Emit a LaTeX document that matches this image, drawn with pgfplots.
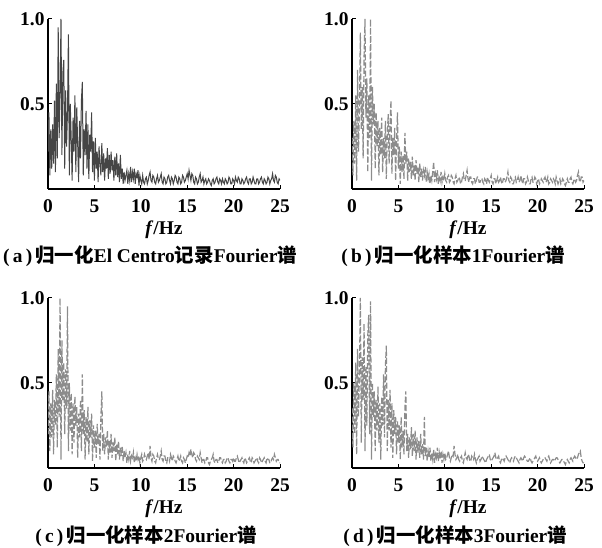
\documentclass[border=0pt]{standalone}
\usepackage{fontspec}
\setmainfont{Liberation Serif}
\newfontfamily\cjk{Noto Sans CJK SC}
\usepackage{pgfplots}
\pgfplotsset{compat=1.18}
\definecolor{darkline}{HTML}{454545}
\definecolor{grayline}{HTML}{8C8C8C}
\pgfplotsset{
  panel/.style={
    scale only axis, width=232bp, height=170bp,
    xmin=0, xmax=25, ymin=0, ymax=1,
    axis lines=left, axis line style={-, line width=1.1bp, black},
    tick align=inside, major tick length=4bp, tick style={line width=1bp, black},
    xtick={0,5,10,15,20,25}, ytick={0.5,1}, yticklabels={0.5,1.0},
    /pgf/number format/assume math mode=true,
    ticklabel style={font=\fontsize{19.5}{19.5}\selectfont\bfseries},
    xticklabel style={yshift=-7bp},
    xlabel={\textbf{\textit{f}/Hz}},
    xlabel style={font=\fontsize{19.5}{19.5}\selectfont, at={(axis description cs:0.5,0)}, anchor=north, yshift=-28bp},
  },
  solidspec/.style={color=darkline, line width=1.0bp},
  dashspec/.style={color=grayline, line width=1.2bp, dash pattern=on 6bp off 2.2bp},
}
\begin{document}
\begin{tikzpicture}
\useasboundingbox (0,0) rectangle (602bp,548bp);
% (a)
\begin{axis}[panel, at={(48bp,359bp)}, anchor=south west]
\addplot[solidspec] coordinates {
(0.0,0.22)(0.1,0.45)(0.2,0.08)(0.3,0.35)(0.4,0.12)(0.5,0.38)(0.6,0.15)(0.7,0.52)(0.8,0.10)(0.9,0.62)
(1.0,0.18)(1.1,0.95)(1.2,0.30)(1.3,0.55)(1.4,1.00)(1.5,0.20)(1.6,0.68)(1.7,0.76)(1.8,0.12)(1.9,0.58)
(2.0,0.25)(2.1,0.45)(2.2,0.91)(2.3,0.08)(2.4,0.50)(2.5,0.30)(2.6,0.05)(2.7,0.42)(2.8,0.22)(2.9,0.55)
(3.0,0.10)(3.1,0.48)(3.2,0.26)(3.3,0.04)(3.4,0.40)(3.5,0.18)(3.6,0.52)(3.7,0.63)(3.8,0.08)(3.9,0.35)
(4.0,0.20)(4.1,0.46)(4.2,0.12)(4.3,0.38)(4.4,0.06)(4.5,0.32)(4.6,0.22)(4.7,0.45)(4.8,0.10)(4.9,0.28)
(5.0,0.05)(5.1,0.30)(5.2,0.12)(5.3,0.22)(5.4,0.04)(5.5,0.25)(5.6,0.15)(5.7,0.08)(5.8,0.27)(5.9,0.10)
(6.0,0.21)(6.1,0.05)(6.2,0.18)(6.3,0.12)(6.4,0.24)(6.5,0.06)(6.6,0.20)(6.7,0.09)(6.8,0.22)(6.9,0.11)
(7.0,0.17)(7.1,0.05)(7.2,0.19)(7.3,0.08)(7.4,0.21)(7.5,0.07)(7.6,0.15)(7.7,0.04)(7.8,0.20)(7.9,0.06)
(8.0,0.12)(8.1,0.03)(8.2,0.10)(8.3,0.05)(8.4,0.08)(8.5,0.11)(8.6,0.03)(8.7,0.09)(8.8,0.05)(8.9,0.13)
(9.0,0.04)(9.1,0.10)(9.2,0.06)(9.3,0.12)(9.4,0.03)(9.5,0.09)(9.6,0.07)(9.7,0.11)(9.8,0.02)(9.9,0.08)
(10.0,0.05)(10.1,0.03)(10.2,0.08)(10.3,0.04)(10.4,0.03)(10.5,0.06)(10.6,0.07)(10.7,0.03)(10.8,0.05)(10.9,0.08)
(11.0,0.10)(11.1,0.05)(11.2,0.04)(11.3,0.08)(11.4,0.07)(11.5,0.04)(11.6,0.03)(11.7,0.06)(11.8,0.08)(11.9,0.04)
(12.0,0.05)(12.1,0.07)(12.2,0.09)(12.3,0.04)(12.4,0.03)(12.5,0.07)(12.6,0.06)(12.7,0.03)(12.8,0.04)(12.9,0.07)
(13.0,0.08)(13.1,0.05)(13.2,0.03)(13.3,0.07)(13.4,0.06)(13.5,0.03)(13.6,0.05)(13.7,0.08)(13.8,0.07)(13.9,0.04)
(14.0,0.03)(14.1,0.07)(14.2,0.06)(14.3,0.03)(14.4,0.04)(14.5,0.08)(14.6,0.07)(14.7,0.04)(14.8,0.05)(14.9,0.07)
(15.0,0.09)(15.1,0.06)(15.2,0.11)(15.3,0.08)(15.4,0.05)(15.5,0.09)(15.6,0.08)(15.7,0.04)(15.8,0.03)(15.9,0.07)
(16.0,0.06)(16.1,0.03)(16.2,0.04)(16.3,0.07)(16.4,0.09)(16.5,0.04)(16.6,0.05)(16.7,0.07)(16.8,0.03)(16.9,0.05)
(17.0,0.06)(17.1,0.03)(17.2,0.04)(17.3,0.06)(17.4,0.05)(17.5,0.03)(17.6,0.02)(17.7,0.05)(17.8,0.06)(17.9,0.03)
(18.0,0.04)(18.1,0.06)(18.2,0.07)(18.3,0.04)(18.4,0.03)(18.5,0.06)(18.6,0.05)(18.7,0.03)(18.8,0.06)(18.9,0.04)
(19.0,0.03)(19.1,0.06)(19.2,0.05)(19.3,0.03)(19.4,0.04)(19.5,0.07)(19.6,0.06)(19.7,0.03)(19.8,0.03)(19.9,0.06)
(20.0,0.05)(20.1,0.03)(20.2,0.07)(20.3,0.05)(20.4,0.04)(20.5,0.07)(20.6,0.06)(20.7,0.03)(20.8,0.03)(20.9,0.06)
(21.0,0.05)(21.1,0.03)(21.2,0.04)(21.3,0.06)(21.4,0.07)(21.5,0.04)(21.6,0.03)(21.7,0.06)(21.8,0.06)(21.9,0.03)
(22.0,0.04)(22.1,0.07)(22.2,0.05)(22.3,0.03)(22.4,0.03)(22.5,0.06)(22.6,0.06)(22.7,0.03)(22.8,0.04)(22.9,0.06)
(23.0,0.07)(23.1,0.04)(23.2,0.03)(23.3,0.06)(23.4,0.05)(23.5,0.03)(23.6,0.04)(23.7,0.07)(23.8,0.06)(23.9,0.03)
(24.0,0.05)(24.1,0.06)(24.2,0.09)(24.3,0.05)(24.4,0.04)(24.5,0.08)(24.6,0.07)(24.7,0.04)(24.8,0.03)(24.9,0.06)
(25.0,0.05)
};
\end{axis}
% (b)
\begin{axis}[panel, at={(352bp,359bp)}, anchor=south west]
\addplot[dashspec] coordinates {
(0.0,0.30)(0.1,0.08)(0.2,0.40)(0.3,0.15)(0.4,0.55)(0.5,0.05)(0.6,0.70)(0.7,0.22)(0.8,0.48)(0.9,0.92)
(1.0,0.35)(1.1,0.60)(1.2,0.18)(1.3,0.78)(1.4,1.00)(1.5,0.42)(1.6,0.65)(1.7,0.10)(1.8,0.55)(1.9,0.30)
(2.0,1.00)(2.1,0.05)(2.2,0.60)(2.3,0.38)(2.4,0.50)(2.5,0.12)(2.6,0.45)(2.7,0.25)(2.8,0.40)(2.9,0.08)
(3.0,0.36)(3.1,0.20)(3.2,0.42)(3.3,0.10)(3.4,0.30)(3.5,0.18)(3.6,0.40)(3.7,0.06)(3.8,0.32)(3.9,0.44)
(4.0,0.15)(4.1,0.38)(4.2,0.52)(4.3,0.09)(4.4,0.30)(4.5,0.20)(4.6,0.36)(4.7,0.05)(4.8,0.28)(4.9,0.45)
(5.0,0.12)(5.1,0.25)(5.2,0.03)(5.3,0.22)(5.4,0.10)(5.5,0.20)(5.6,0.06)(5.7,0.33)(5.8,0.15)(5.9,0.22)
(6.0,0.05)(6.1,0.18)(6.2,0.10)(6.3,0.16)(6.4,0.06)(6.5,0.19)(6.6,0.08)(6.7,0.14)(6.8,0.05)(6.9,0.17)
(7.0,0.09)(7.1,0.13)(7.2,0.04)(7.3,0.15)(7.4,0.07)(7.5,0.12)(7.6,0.05)(7.7,0.11)(7.8,0.08)(7.9,0.13)
(8.0,0.04)(8.1,0.10)(8.2,0.06)(8.3,0.09)(8.4,0.03)(8.5,0.08)(8.6,0.05)(8.7,0.10)(8.8,0.16)(8.9,0.04)
(9.0,0.09)(9.1,0.06)(9.2,0.11)(9.3,0.03)(9.4,0.08)(9.5,0.05)(9.6,0.10)(9.7,0.04)(9.8,0.07)(9.9,0.05)
(10.0,0.09)(10.1,0.05)(10.2,0.04)(10.3,0.07)(10.4,0.08)(10.5,0.04)(10.6,0.05)(10.7,0.08)(10.8,0.07)(10.9,0.04)
(11.0,0.03)(11.1,0.06)(11.2,0.08)(11.3,0.04)(11.4,0.05)(11.5,0.07)(11.6,0.06)(11.7,0.03)(11.8,0.04)(11.9,0.07)
(12.0,0.09)(12.1,0.05)(12.2,0.05)(12.3,0.08)(12.4,0.11)(12.5,0.06)(12.6,0.04)(12.7,0.07)(12.8,0.07)(12.9,0.04)
(13.0,0.03)(13.1,0.06)(13.2,0.06)(13.3,0.03)(13.4,0.05)(13.5,0.07)(13.6,0.07)(13.7,0.04)(13.8,0.04)(13.9,0.06)
(14.0,0.06)(14.1,0.04)(14.2,0.03)(14.3,0.06)(14.4,0.05)(14.5,0.03)(14.6,0.07)(14.7,0.05)(14.8,0.04)(14.9,0.06)
(15.0,0.08)(15.1,0.04)(15.2,0.03)(15.3,0.06)(15.4,0.06)(15.5,0.03)(15.6,0.05)(15.7,0.07)(15.8,0.04)(15.9,0.05)
(16.0,0.07)(16.1,0.04)(16.2,0.03)(16.3,0.06)(16.4,0.06)(16.5,0.04)(16.6,0.05)(16.7,0.07)(16.8,0.10)(16.9,0.05)
(17.0,0.04)(17.1,0.07)(17.2,0.06)(17.3,0.03)(17.4,0.03)(17.5,0.06)(17.6,0.07)(17.7,0.04)(17.8,0.05)(17.9,0.07)
(18.0,0.04)(18.1,0.05)(18.2,0.08)(18.3,0.05)(18.4,0.03)(18.5,0.06)(18.6,0.06)(18.7,0.03)(18.8,0.04)(18.9,0.07)
(19.0,0.05)(19.1,0.03)(19.2,0.03)(19.3,0.06)(19.4,0.07)(19.5,0.04)(19.6,0.04)(19.7,0.07)(19.8,0.06)(19.9,0.03)
(20.0,0.05)(20.1,0.06)(20.2,0.03)(20.3,0.04)(20.4,0.06)(20.5,0.05)(20.6,0.04)(20.7,0.06)(20.8,0.07)(20.9,0.04)
(21.0,0.05)(21.1,0.07)(21.2,0.03)(21.3,0.04)(21.4,0.06)(21.5,0.05)(21.6,0.04)(21.7,0.06)(21.8,0.05)(21.9,0.03)
(22.0,0.07)(22.1,0.05)(22.2,0.03)(22.3,0.05)(22.4,0.06)(22.5,0.03)(22.6,0.04)(22.7,0.06)(22.8,0.05)(22.9,0.03)
(23.0,0.02)(23.1,0.04)(23.2,0.06)(23.3,0.04)(23.4,0.04)(23.5,0.06)(23.6,0.07)(23.7,0.04)(23.8,0.03)(23.9,0.05)
(24.0,0.06)(24.1,0.04)(24.2,0.05)(24.3,0.08)(24.4,0.10)(24.5,0.05)(24.6,0.04)(24.7,0.07)(24.8,0.07)(24.9,0.04)
(25.0,0.05)
};
\end{axis}
% (c)
\begin{axis}[panel, at={(48bp,80bp)}, anchor=south west]
\addplot[dashspec] coordinates {
(0.0,0.20)(0.1,0.45)(0.2,0.10)(0.3,0.38)(0.4,0.18)(0.5,0.46)(0.6,0.08)(0.7,0.40)(0.8,0.25)(0.9,0.55)
(1.0,0.12)(1.1,0.70)(1.2,0.30)(1.3,1.00)(1.4,0.05)(1.5,0.75)(1.6,0.40)(1.7,0.62)(1.8,0.20)(1.9,0.58)
(2.0,0.35)(2.1,0.95)(2.2,0.10)(2.3,0.50)(2.4,0.22)(2.5,0.44)(2.6,0.08)(2.7,0.38)(2.8,0.15)(2.9,0.42)
(3.0,0.25)(3.1,0.36)(3.2,0.06)(3.3,0.32)(3.4,0.18)(3.5,0.40)(3.6,0.10)(3.7,0.55)(3.8,0.20)(3.9,0.34)
(4.0,0.05)(4.1,0.30)(4.2,0.15)(4.3,0.36)(4.4,0.08)(4.5,0.28)(4.6,0.18)(4.7,0.32)(4.8,0.04)(4.9,0.25)
(5.0,0.12)(5.1,0.22)(5.2,0.06)(5.3,0.26)(5.4,0.14)(5.5,0.20)(5.6,0.05)(5.7,0.30)(5.8,0.45)(5.9,0.10)
(6.0,0.20)(6.1,0.08)(6.2,0.18)(6.3,0.12)(6.4,0.22)(6.5,0.05)(6.6,0.16)(6.7,0.09)(6.8,0.20)(6.9,0.06)
(7.0,0.15)(7.1,0.10)(7.2,0.18)(7.3,0.04)(7.4,0.14)(7.5,0.08)(7.6,0.16)(7.7,0.05)(7.8,0.12)(7.9,0.07)
(8.0,0.13)(8.1,0.04)(8.2,0.10)(8.3,0.06)(8.4,0.09)(8.5,0.03)(8.6,0.08)(8.7,0.05)(8.8,0.10)(8.9,0.04)
(9.0,0.07)(9.1,0.05)(9.2,0.09)(9.3,0.03)(9.4,0.06)(9.5,0.04)(9.6,0.08)(9.7,0.05)(9.8,0.07)(9.9,0.03)
(10.0,0.06)(10.1,0.08)(10.2,0.04)(10.3,0.05)(10.4,0.08)(10.5,0.06)(10.6,0.05)(10.7,0.07)(10.8,0.09)(10.9,0.05)
(11.0,0.13)(11.1,0.06)(11.2,0.04)(11.3,0.08)(11.4,0.07)(11.5,0.04)(11.6,0.03)(11.7,0.06)(11.8,0.08)(11.9,0.05)
(12.0,0.05)(12.1,0.07)(12.2,0.10)(12.3,0.05)(12.4,0.04)(12.5,0.07)(12.6,0.07)(12.7,0.04)(12.8,0.03)(12.9,0.06)
(13.0,0.06)(13.1,0.04)(13.2,0.08)(13.3,0.06)(13.4,0.04)(13.5,0.07)(13.6,0.06)(13.7,0.04)(13.8,0.03)(13.9,0.05)
(14.0,0.07)(14.1,0.04)(14.2,0.05)(14.3,0.07)(14.4,0.04)(14.5,0.03)(14.6,0.06)(14.7,0.05)(14.8,0.03)(14.9,0.05)
(15.0,0.07)(15.1,0.06)(15.2,0.09)(15.3,0.07)(15.4,0.11)(15.5,0.08)(15.6,0.06)(15.7,0.09)(15.8,0.08)(15.9,0.05)
(16.0,0.04)(16.1,0.07)(16.2,0.06)(16.3,0.05)(16.4,0.09)(16.5,0.06)(16.6,0.03)(16.7,0.05)(16.8,0.05)(16.9,0.03)
(17.0,0.04)(17.1,0.06)(17.2,0.06)(17.3,0.03)(17.4,0.02)(17.5,0.04)(17.6,0.05)(17.7,0.06)(17.8,0.08)(17.9,0.04)
(18.0,0.03)(18.1,0.05)(18.2,0.05)(18.3,0.03)(18.4,0.04)(18.5,0.06)(18.6,0.06)(18.7,0.04)(18.8,0.03)(18.9,0.05)
(19.0,0.05)(19.1,0.03)(19.2,0.04)(19.3,0.06)(19.4,0.06)(19.5,0.04)(19.6,0.03)(19.7,0.05)(19.8,0.05)(19.9,0.04)
(20.0,0.06)(20.1,0.04)(20.2,0.04)(20.3,0.06)(20.4,0.07)(20.5,0.05)(20.6,0.03)(20.7,0.04)(20.8,0.05)(20.9,0.06)
(21.0,0.04)(21.1,0.03)(21.2,0.06)(21.3,0.05)(21.4,0.03)(21.5,0.04)(21.6,0.05)(21.7,0.06)(21.8,0.04)(21.9,0.03)
(22.0,0.06)(22.1,0.05)(22.2,0.03)(22.3,0.04)(22.4,0.05)(22.5,0.06)(22.6,0.04)(22.7,0.03)(22.8,0.06)(22.9,0.05)
(23.0,0.03)(23.1,0.04)(23.2,0.05)(23.3,0.06)(23.4,0.04)(23.5,0.03)(23.6,0.06)(23.7,0.05)(23.8,0.05)(23.9,0.03)
(24.0,0.03)(24.1,0.05)(24.2,0.06)(24.3,0.05)(24.4,0.08)(24.5,0.06)(24.6,0.04)(24.7,0.05)(24.8,0.05)(24.9,0.03)
(25.0,0.03)
};
\end{axis}
% (d)
\begin{axis}[panel, at={(352bp,80bp)}, anchor=south west]
\addplot[dashspec] coordinates {
(0.0,0.35)(0.1,0.12)(0.2,0.50)(0.3,0.20)(0.4,0.62)(0.5,0.08)(0.6,0.70)(0.7,0.30)(0.8,0.55)(0.9,1.00)
(1.0,0.15)(1.1,0.65)(1.2,0.40)(1.3,0.85)(1.4,0.10)(1.5,0.60)(1.6,0.25)(1.7,0.78)(1.8,0.90)(1.9,0.20)
(2.0,0.98)(2.1,0.05)(2.2,0.50)(2.3,0.30)(2.4,0.45)(2.5,0.10)(2.6,0.40)(2.7,0.22)(2.8,0.48)(2.9,0.15)
(3.0,0.38)(3.1,0.05)(3.2,0.42)(3.3,0.25)(3.4,0.55)(3.5,0.18)(3.6,0.60)(3.7,0.72)(3.8,0.10)(3.9,0.40)
(4.0,0.22)(4.1,0.46)(4.2,0.12)(4.3,0.38)(4.4,0.06)(4.5,0.34)(4.6,0.20)(4.7,0.30)(4.8,0.08)(4.9,0.28)
(5.0,0.15)(5.1,0.25)(5.2,0.05)(5.3,0.30)(5.4,0.12)(5.5,0.22)(5.6,0.08)(5.7,0.35)(5.8,0.45)(5.9,0.10)
(6.0,0.20)(6.1,0.06)(6.2,0.18)(6.3,0.11)(6.4,0.24)(6.5,0.07)(6.6,0.20)(6.7,0.10)(6.8,0.22)(6.9,0.05)
(7.0,0.18)(7.1,0.09)(7.2,0.16)(7.3,0.06)(7.4,0.20)(7.5,0.08)(7.6,0.14)(7.7,0.05)(7.8,0.30)(7.9,0.07)
(8.0,0.12)(8.1,0.04)(8.2,0.10)(8.3,0.06)(8.4,0.12)(8.5,0.04)(8.6,0.09)(8.7,0.05)(8.8,0.11)(8.9,0.03)
(9.0,0.08)(9.1,0.06)(9.2,0.12)(9.3,0.04)(9.4,0.09)(9.5,0.05)(9.6,0.10)(9.7,0.03)(9.8,0.08)(9.9,0.05)
(10.0,0.09)(10.1,0.05)(10.2,0.06)(10.3,0.08)(10.4,0.10)(10.5,0.06)(10.6,0.04)(10.7,0.06)(10.8,0.08)(10.9,0.07)
(11.0,0.13)(11.1,0.08)(11.2,0.05)(11.3,0.06)(11.4,0.08)(11.5,0.05)(11.6,0.04)(11.7,0.06)(11.8,0.07)(11.9,0.04)
(12.0,0.03)(12.1,0.06)(12.2,0.09)(12.3,0.06)(12.4,0.05)(12.5,0.08)(12.6,0.07)(12.7,0.04)(12.8,0.04)(12.9,0.07)
(13.0,0.06)(13.1,0.05)(13.2,0.08)(13.3,0.05)(13.4,0.03)(13.5,0.05)(13.6,0.06)(13.7,0.07)(13.8,0.04)(13.9,0.05)
(14.0,0.07)(14.1,0.06)(14.2,0.05)(14.3,0.04)(14.4,0.03)(14.5,0.05)(14.6,0.06)(14.7,0.07)(14.8,0.08)(14.9,0.05)
(15.0,0.04)(15.1,0.05)(15.2,0.06)(15.3,0.07)(15.4,0.09)(15.5,0.06)(15.6,0.05)(15.7,0.06)(15.8,0.07)(15.9,0.04)
(16.0,0.03)(16.1,0.05)(16.2,0.06)(16.3,0.05)(16.4,0.04)(16.5,0.06)(16.6,0.07)(16.7,0.06)(16.8,0.05)(16.9,0.04)
(17.0,0.03)(17.1,0.05)(17.2,0.06)(17.3,0.05)(17.4,0.04)(17.5,0.06)(17.6,0.07)(17.7,0.06)(17.8,0.05)(17.9,0.04)
(18.0,0.03)(18.1,0.05)(18.2,0.06)(18.3,0.05)(18.4,0.04)(18.5,0.06)(18.6,0.07)(18.7,0.06)(18.8,0.05)(18.9,0.04)
(19.0,0.04)(19.1,0.05)(19.2,0.06)(19.3,0.04)(19.4,0.03)(19.5,0.04)(19.6,0.05)(19.7,0.06)(19.8,0.07)(19.9,0.05)
(20.0,0.04)(20.1,0.05)(20.2,0.06)(20.3,0.04)(20.4,0.03)(20.5,0.04)(20.6,0.05)(20.7,0.06)(20.8,0.06)(20.9,0.05)
(21.0,0.04)(21.1,0.06)(21.2,0.07)(21.3,0.05)(21.4,0.03)(21.5,0.04)(21.6,0.05)(21.7,0.05)(21.8,0.04)(21.9,0.05)
(22.0,0.06)(22.1,0.06)(22.2,0.05)(22.3,0.04)(22.4,0.03)(22.5,0.04)(22.6,0.05)(22.7,0.05)(22.8,0.04)(22.9,0.03)
(23.0,0.02)(23.1,0.04)(23.2,0.05)(23.3,0.04)(23.4,0.03)(23.5,0.05)(23.6,0.06)(23.7,0.05)(23.8,0.04)(23.9,0.06)
(24.0,0.07)(24.1,0.06)(24.2,0.05)(24.3,0.06)(24.4,0.08)(24.5,0.09)(24.6,0.10)(24.7,0.06)(24.8,0.04)(24.9,0.03)
(25.0,0.03)
};
\end{axis}
% captions
\tikzset{capnode/.style={font=\fontsize{19.5}{19.5}\selectfont\bfseries, inner sep=0pt}}
\node[capnode] at (150bp,292bp) {(\,a\,)\,{\cjk\bfseries 归一化}El Centro{\cjk\bfseries 记录}Fourier{\cjk\bfseries 谱}};
\node[capnode] at (453bp,292bp) {(\,b\,)\,{\cjk\bfseries 归一化样本}1Fourier{\cjk\bfseries 谱}};
\node[capnode] at (146bp,12bp) {(\,c\,)\,{\cjk\bfseries 归一化样本}2Fourier{\cjk\bfseries 谱}};
\node[capnode] at (455bp,12bp) {(\,d\,)\,{\cjk\bfseries 归一化样本}3Fourier{\cjk\bfseries 谱}};
\end{tikzpicture}
\end{document}
